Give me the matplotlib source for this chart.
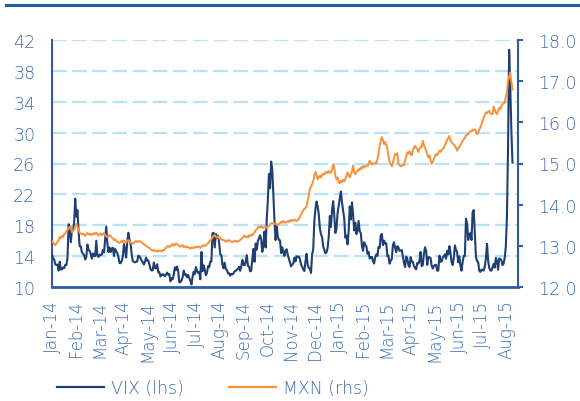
import numpy as np
import matplotlib
matplotlib.use("Agg")
import matplotlib.pyplot as plt
from matplotlib.lines import Line2D

plt.rcParams['font.family'] = ['DejaVu Sans']
plt.rcParams['font.weight'] = 'light'
plt.rcParams['lines.scale_dashes'] = False

# ---------------- data (business days, Jan-2014 .. 27-Aug-2015) ----------------
vix_2014 = [
    # Jan
    14.23, 13.76, 13.55, 12.92, 12.87, 12.89, 12.14, 13.28, 12.28, 12.28, 12.53, 12.44, 12.87, 12.84, 13.77, 18.14, 17.42, 15.80, 17.35, 17.29, 18.41,
    # Feb
    21.44, 19.11, 19.95, 17.23, 15.29, 15.26, 14.51, 14.30, 14.14, 13.57, 13.87, 15.50, 14.79, 14.68, 14.23, 13.67, 14.35, 14.04, 14.00,
    # Mar
    16.00, 14.10, 13.89, 14.21, 14.11, 14.20, 14.80, 14.47, 16.22, 17.82, 15.64, 14.52, 15.12, 14.52, 15.00, 15.09, 14.02, 14.93, 14.62, 14.41, 13.88,
    # Apr
    13.10, 13.09, 13.37, 13.96, 15.57, 14.89, 13.82, 15.89, 17.03, 16.11, 15.61, 14.18, 13.36, 13.25, 13.19, 13.27, 13.32, 14.06, 13.97, 13.71, 13.41,
    # May
    13.25, 12.91, 13.29, 13.80, 13.40, 13.43, 12.92, 12.32, 12.13, 12.17, 13.17, 12.44, 12.42, 12.96, 11.91, 11.93, 11.36, 11.51, 11.68, 11.57, 11.40,
    # Jun
    11.58, 11.87, 11.60, 11.68, 10.73, 11.15, 10.99, 11.60, 12.56, 12.18, 12.65, 12.06, 10.61, 10.62, 10.85, 11.26, 12.13, 11.59, 11.63, 11.26, 11.57,
    # Jul
    11.15, 10.82, 10.32, 11.33, 11.98, 11.65, 12.59, 12.08, 11.82, 11.96, 11.00, 14.54, 12.06, 12.81, 12.24, 11.52, 11.84, 12.69, 12.56, 13.28, 13.33, 16.95,
    # Aug
    17.03, 15.12, 16.87, 16.37, 16.66, 15.77, 14.23, 14.13, 12.90, 12.42, 13.15, 12.32, 12.21, 11.78, 11.76, 11.47, 11.70, 11.63, 11.78, 12.05, 12.09,
    # Sep
    12.25, 12.36, 12.64, 12.09, 12.66, 13.50, 12.88, 12.80, 13.31, 14.12, 12.73, 12.65, 12.03, 12.11, 13.69, 14.93, 13.27, 15.64, 14.85, 15.98, 16.31,
    # Oct
    16.71, 16.16, 14.55, 15.46, 17.20, 15.11, 18.76, 21.24, 24.64, 22.79, 26.25, 25.20, 21.99, 18.57, 16.08, 17.87, 16.53, 16.11, 16.04, 14.39, 15.15, 14.52, 14.03,
    # Nov
    14.73, 14.89, 14.17, 13.67, 13.12, 12.67, 12.92, 13.02, 13.79, 13.31, 13.99, 13.86, 13.96, 13.58, 12.90, 12.62, 12.25, 12.07, 13.33,
    # Dec
    14.29, 12.85, 12.47, 12.38, 11.82, 14.21, 14.89, 18.53, 20.08, 21.08, 20.42, 19.44, 17.61, 16.81, 16.49, 15.25, 14.80, 14.37, 14.50, 15.06, 16.49, 19.20,
]
vix_2015 = [
    # Jan
    17.79, 19.92, 21.12, 19.31, 17.01, 17.55, 19.60, 20.56, 21.48, 22.39, 20.95, 19.89, 18.85, 16.40, 16.66, 15.52, 17.22, 20.44, 18.76, 20.97,
    # Feb
    19.43, 17.33, 18.33, 16.85, 17.29, 18.55, 17.23, 16.96, 15.34, 14.69, 15.80, 15.45, 15.29, 14.30, 14.56, 13.69, 13.84, 13.91, 13.34,
    # Mar
    13.04, 13.86, 14.23, 14.04, 15.20, 15.06, 16.69, 16.87, 15.42, 16.00, 15.61, 15.66, 13.97, 14.07, 13.02, 13.41, 13.62, 15.44, 15.80, 15.07, 14.51, 15.29,
    # Apr
    15.11, 14.67, 14.74, 14.78, 13.98, 13.09, 12.58, 13.94, 13.67, 12.84, 12.60, 13.89, 13.30, 13.25, 12.71, 12.48, 12.29, 13.12, 13.03, 13.39, 14.55,
    # May
    12.70, 12.85, 14.31, 15.15, 14.71, 12.86, 13.85, 13.86, 13.76, 12.74, 12.38, 12.73, 12.85, 12.88, 12.11, 12.13, 14.06, 13.27, 13.31, 13.84,
    # Jun
    13.97, 14.24, 13.66, 14.71, 14.21, 15.29, 14.47, 13.22, 12.85, 13.78, 15.39, 14.81, 14.50, 13.19, 13.96, 12.74, 12.11, 13.26, 14.01, 14.02, 18.85, 18.23,
    # Jul
    16.09, 16.79, 17.01, 16.09, 19.66, 19.97, 16.83, 13.90, 13.37, 13.23, 12.11, 11.95, 12.25, 12.22, 12.12, 12.64, 13.74, 15.60, 13.44, 12.50, 12.13, 12.12,
    # Aug
    12.56, 13.00, 12.51, 13.77, 13.39, 12.23, 13.71, 13.61, 13.49, 12.83, 13.02, 13.79, 15.25, 19.14, 28.03, 40.74, 36.02, 30.32, 26.10,
]

mxn_2014 = [
    # Jan
    13.12, 13.08, 13.04, 13.02, 13.06, 13.10, 13.14, 13.21, 13.18, 13.24, 13.22, 13.28, 13.30, 13.36, 13.38, 13.41, 13.45, 13.48, 13.33, 13.36, 13.40,
    # Feb
    13.47, 13.53, 13.46, 13.38, 13.32, 13.30, 13.28, 13.30, 13.27, 13.24, 13.29, 13.31, 13.28, 13.30, 13.26, 13.29, 13.27, 13.31, 13.28,
    # Mar
    13.32, 13.29, 13.25, 13.28, 13.30, 13.26, 13.29, 13.31, 13.27, 13.24, 13.21, 13.23, 13.26, 13.24, 13.20, 13.18, 13.14, 13.16, 13.12, 13.10, 13.08,
    # Apr
    13.07, 13.10, 13.12, 13.09, 13.13, 13.10, 13.08, 13.12, 13.14, 13.11, 13.08, 13.06, 13.05, 13.08, 13.10, 13.12, 13.09, 13.10, 13.12, 13.10, 13.08,
    # May
    13.06, 13.04, 13.02, 13.00, 12.98, 12.96, 12.95, 12.92, 12.90, 12.88, 12.90, 12.87, 12.88, 12.86, 12.89, 12.87, 12.88, 12.86, 12.90, 12.89, 12.92,
    # Jun
    12.95, 12.98, 13.00, 12.97, 12.99, 13.02, 13.05, 13.00, 13.03, 13.06, 13.04, 13.02, 12.99, 12.98, 13.00, 13.02, 12.97, 12.99, 12.96, 12.98, 12.97,
    # Jul
    12.95, 12.93, 12.96, 12.94, 12.97, 12.95, 12.98, 12.96, 12.99, 12.97, 12.95, 12.98, 13.00, 13.02, 12.99, 13.01, 13.04, 13.06, 13.10, 13.13, 13.16, 13.20,
    # Aug
    13.24, 13.26, 13.22, 13.20, 13.23, 13.18, 13.20, 13.16, 13.14, 13.15, 13.12, 13.10, 13.13, 13.11, 13.14, 13.12, 13.10, 13.09, 13.11, 13.12, 13.10,
    # Sep
    13.12, 13.10, 13.13, 13.14, 13.17, 13.19, 13.23, 13.25, 13.21, 13.23, 13.20, 13.26, 13.24, 13.27, 13.25, 13.30, 13.33, 13.38, 13.40, 13.45, 13.46,
    # Oct
    13.44, 13.48, 13.46, 13.43, 13.45, 13.47, 13.44, 13.46, 13.48, 13.52, 13.55, 13.54, 13.56, 13.53, 13.55, 13.52, 13.50, 13.53, 13.55, 13.58, 13.56, 13.60, 13.58,
    # Nov
    13.56, 13.58, 13.60, 13.58, 13.62, 13.60, 13.63, 13.61, 13.64, 13.62, 13.60, 13.63, 13.66, 13.70, 13.76, 13.82, 13.86, 13.90, 13.92,
    # Dec
    13.96, 14.10, 14.22, 14.38, 14.44, 14.50, 14.57, 14.70, 14.80, 14.72, 14.62, 14.67, 14.70, 14.66, 14.72, 14.75, 14.73, 14.78, 14.80, 14.76, 14.82, 14.78,
]
mxn_2015 = [
    # Jan
    14.78, 14.85, 14.98, 14.90, 14.70, 14.62, 14.66, 14.55, 14.52, 14.58, 14.55, 14.60, 14.57, 14.62, 14.70, 14.78, 14.72, 14.66, 14.74, 14.80,
    # Feb
    14.95, 14.78, 14.74, 14.80, 14.82, 14.86, 14.84, 14.90, 14.88, 14.94, 14.90, 14.93, 14.95, 14.94, 14.98, 15.07, 15.02, 14.97, 15.00,
    # Mar
    14.99, 15.02, 15.00, 15.10, 15.25, 15.43, 15.55, 15.64, 15.56, 15.47, 15.52, 15.45, 15.35, 15.18, 15.03, 14.98, 14.94, 15.02, 15.12, 15.23, 15.20, 15.25,
    # Apr
    14.99, 14.96, 14.93, 14.94, 14.97, 14.96, 15.08, 15.18, 15.27, 15.24, 15.30, 15.22, 15.20, 15.32, 15.38, 15.43, 15.38, 15.35, 15.28, 15.36, 15.40,
    # May
    15.40, 15.55, 15.45, 15.38, 15.30, 15.23, 15.15, 15.20, 15.08, 14.99, 15.04, 15.10, 15.18, 15.23, 15.20, 15.26, 15.31, 15.28, 15.33, 15.35,
    # Jun
    15.38, 15.45, 15.51, 15.58, 15.62, 15.67, 15.55, 15.52, 15.48, 15.46, 15.43, 15.38, 15.31, 15.36, 15.40, 15.45, 15.50, 15.55, 15.59, 15.62, 15.68, 15.71,
    # Jul
    15.70, 15.75, 15.79, 15.78, 15.82, 15.80, 15.83, 15.78, 15.71, 15.74, 15.83, 15.88, 15.95, 16.04, 16.10, 16.18, 16.24, 16.22, 16.26, 16.28, 16.22, 16.20,
    # Aug
    16.20, 16.38, 16.30, 16.24, 16.20, 16.28, 16.35, 16.32, 16.40, 16.44, 16.46, 16.48, 16.62, 16.73, 17.01, 17.10, 17.21, 16.98, 16.80,
]

month_labels = ["Jan-14", "Feb-14", "Mar-14", "Apr-14", "May-14", "Jun-14", "Jul-14",
                "Aug-14", "Sep-14", "Oct-14", "Nov-14", "Dec-14", "Jan-15", "Feb-15",
                "Mar-15", "Apr-15", "May-15", "Jun-15", "Jul-15", "Aug-15"]
left_ticks = [10, 14, 18, 22, 26, 30, 34, 38, 42]
right_ticks = [12.0, 13.0, 14.0, 15.0, 16.0, 17.0, 18.0]

vix = np.array(vix_2014 + vix_2015)
mxn = np.array(mxn_2014 + mxn_2015)
x_vix = np.arange(len(vix))
x_mxn = np.arange(len(mxn))

# ---------------- style ----------------
NAVY = '#1f3f73'
ORANGE = '#f7923a'
AXBLUE = '#2a5ca8'
TXT = '#3a6cb6'
GRID = '#b8e2f7'
FS = 12.5

W, H = 580, 402
fig = plt.figure(figsize=(W / 100, H / 100), dpi=100)
ax = fig.add_axes([52 / W, 1 - 288 / H, (518 - 52) / W, (288 - 41) / H])
ax2 = ax.twinx()

# top decorative rule
fig.add_artist(Line2D([6 / W, 1.0], [1 - 6 / H, 1 - 6 / H], color='#1f5ca8', lw=2.2,
                      transform=fig.transFigure))

ax.set_ylim(10, 42)
ax2.set_ylim(12, 18)
ax.set_xlim(0, 421)

# gridlines on the left axis values
for v in left_ticks[1:]:
    ax.axhline(v, color=GRID, lw=1.6, linestyle=(0, (10.5, 4)), zorder=0)

l1, = ax.plot(x_vix, vix, color=NAVY, lw=1.5, zorder=3, label='VIX (lhs)')
l2, = ax2.plot(x_mxn, mxn, color=ORANGE, lw=1.4, zorder=3, label='MXN (rhs)')

# axes styling
for a in (ax, ax2):
    a.spines['top'].set_visible(False)
    a.patch.set_visible(False)
ax.spines['right'].set_visible(False)
ax2.spines['left'].set_visible(False)
ax2.spines['bottom'].set_visible(False)
ax.spines['left'].set_color(AXBLUE)
ax.spines['left'].set_linewidth(1.5)
ax.spines['bottom'].set_color(AXBLUE)
ax.spines['bottom'].set_linewidth(2.0)
ax2.spines['right'].set_color(AXBLUE)
ax2.spines['right'].set_linewidth(1.5)

ax.set_yticks(left_ticks)
ax.set_yticklabels([str(t) for t in left_ticks])
ax.tick_params(axis='y', length=0, pad=12, labelsize=FS, labelcolor=TXT)

ax2.set_yticks(right_ticks)
ax2.set_yticklabels([f"{t:.1f}" for t in right_ticks])
ax2.tick_params(axis='y', length=3.5, width=1.5, color=AXBLUE, pad=11,
                labelsize=FS, labelcolor=TXT, direction='out')

tick_pos = np.arange(len(month_labels)) * 21.6
ax.set_xticks(tick_pos)
ax.set_xticklabels(month_labels, rotation=90, ha='center', va='top')
ax.tick_params(axis='x', length=0, pad=9, labelsize=FS - 0.5, labelcolor=TXT)

leg = fig.legend(handles=[l1, l2], loc='center left',
                 bbox_to_anchor=(57 / W, 1 - 389 / H), ncol=2, frameon=False,
                 fontsize=FS, handlelength=2.7, handletextpad=0.4,
                 columnspacing=2.6, borderpad=0, borderaxespad=0)
for t in leg.get_texts():
    t.set_color(TXT)
for h in leg.legend_handles:
    h.set_linewidth(1.6)

fig.savefig('out.png', dpi=100)
